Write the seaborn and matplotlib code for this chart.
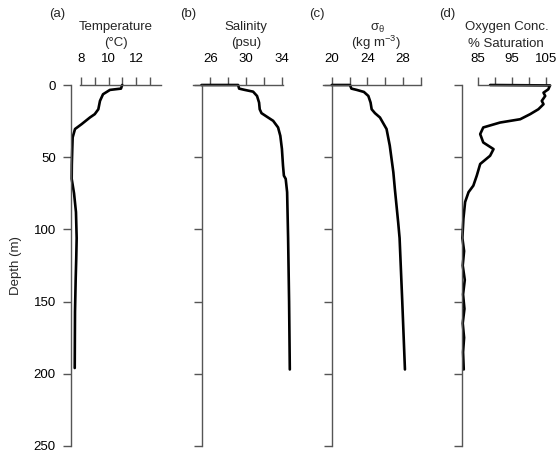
import numpy as np
import pandas as pd
import seaborn as sns
import matplotlib.pyplot as plt
from matplotlib.ticker import FixedLocator, FuncFormatter

# Profile data (depth in m)
temp_depth = [0, 2.5, 3.4, 6.4, 11, 16.8, 20.2, 22.5, 27.1, 30.5, 36.3, 45, 55, 65,
              75, 88, 106, 120, 134, 157, 175, 196]
temp_vals = [10.99, 10.9, 10.1, 9.6, 9.38, 9.26, 9.0, 8.65, 8.05, 7.57, 7.4, 7.37, 7.34, 7.33,
             7.5, 7.64, 7.69, 7.66, 7.62, 7.57, 7.56, 7.55]

sal_depth = [0, 0, 2.5, 3.4, 4.6, 7.6, 12.2, 16.8, 19.5, 21.8, 24.8, 29.4, 35.2, 44.3,
             55.8, 62.8, 65, 74.2, 106, 150, 197]
sal_vals = [25.0, 29.09, 29.2, 29.83, 30.76, 31.2, 31.43, 31.5, 31.7, 32.26, 33.0, 33.55, 33.8, 33.98,
            34.1, 34.2, 34.4, 34.56, 34.67, 34.78, 34.86]

sig_depth = [0, 0, 2.5, 3.4, 4.8, 7.6, 12.2, 16.8, 19.5, 22.5, 30.5, 42, 60.4, 72,
             95, 106, 150, 197]
sig_vals = [20.0, 22.04, 22.2, 22.8, 23.6, 24.1, 24.35, 24.47, 24.84, 25.4, 26.14, 26.5, 26.9, 27.07,
            27.44, 27.6, 27.9, 28.2]

oxy_depth = [0, 0.3, 3, 5.3, 7.6, 11, 13.3, 16.8, 20.2, 23.7, 26, 29.4, 34, 39.8, 44.4, 49,
             54.7, 62.8, 69.7, 74.2, 81, 92.6, 106, 115, 125, 135, 145, 155, 165, 175, 185, 197]
oxy_vals = [88.6, 106.1, 105.6, 104.2, 104.7, 103.7, 104.2, 102.7, 100.3, 97.4, 91.5, 86.6, 85.7, 86.6, 89.6, 88.6,
            85.7, 84.7, 83.7, 82.3, 81.3, 80.8, 80.5, 81.0, 80.6, 81.2, 80.7, 81.1, 80.6, 81.0, 80.7, 80.9]

depth_ticks = [0, 50, 100, 150, 200, 250]

sns.set_style("ticks")
plt.rcParams['font.family'] = ['Liberation Sans', 'DejaVu Sans']
plt.rcParams['mathtext.fontset'] = 'custom'
plt.rcParams['mathtext.rm'] = 'Liberation Sans'
plt.rcParams['mathtext.it'] = 'Liberation Sans'

W, H = 560, 457
fig = plt.figure(figsize=(W / 100, H / 100), dpi=100)

spine_col = '#555555'

# (left px, right px, xlim, left spine position, top spine bounds, ticks, labelled ticks, values, depths)
panels = [
    (71, 161, (7.28, 13.8), None, (7.95, 13.8), [8, 9, 10, 11, 12, 13], [8, 10, 12], temp_vals, temp_depth),
    (193, 283, (24.05, 34.1), 25.0, None, [26, 28, 30, 32, 34], [26, 30, 34], sal_vals, sal_depth),
    (323.3, 421, (19.05, 30.0), 20.0, None, [20, 22, 24, 26, 28, 30], [20, 24, 28], sig_vals, sig_depth),
    (461.7, 550, (80.3, 106.1), None, (85, 106.1), [85, 90, 95, 100, 105], [85, 95, 105], oxy_vals, oxy_depth),
]

top_px, bot_px = 85, 446
for i, (l, r, xlim, lpos, tbounds, ticks, labelled, vals, depth) in enumerate(panels):
    ax = fig.add_axes([l / W, 1 - bot_px / H, (r - l) / W, (bot_px - top_px) / H])
    df = pd.DataFrame({'val': vals, 'depth': depth})
    sns.lineplot(data=df, x='val', y='depth', sort=False, estimator=None, ax=ax,
                 color='black', lw=1.9, clip_on=False)
    ax.set_xlim(*xlim)
    ax.set_ylim(250, 0)
    ax.set_xlabel('')
    ax.set_ylabel('')

    ax.spines['right'].set_visible(False)
    ax.spines['bottom'].set_visible(False)
    for s in ['top', 'left']:
        ax.spines[s].set_color(spine_col)
        ax.spines[s].set_linewidth(1.0)
    if lpos is not None:
        ax.spines['left'].set_position(('data', lpos))
    if tbounds is not None:
        ax.spines['top'].set_bounds(*tbounds)

    ax.xaxis.tick_top()
    ax.xaxis.set_major_locator(FixedLocator(ticks))
    ax.xaxis.set_major_formatter(FuncFormatter(lambda v, p, lab=labelled: f'{v:g}' if v in lab else ''))
    ax.yaxis.set_major_locator(FixedLocator(depth_ticks))
    ax.tick_params(axis='x', direction='out', length=6, width=1, color=spine_col, pad=8.5,
                   labelsize=9.5, labelcolor='black')
    ax.tick_params(axis='y', direction='out', length=6, width=1, color=spine_col, pad=5,
                   labelsize=9.5, labelcolor='black')
    if i > 0:
        ax.set_yticklabels([])

# Panel letters and headers
def ftext(x, y, s, **kw):
    fig.text(x / W, 1 - y / H, s, ha='center', va='center', fontsize=9.5, **kw)

ftext(57, 14, '(a)')
ftext(116, 27, 'Temperature')
ftext(116, 43, '(\u00b0C)')
ftext(188, 14, '(b)')
ftext(246, 27, 'Salinity')
ftext(246, 43, '(psu)')
ftext(317, 14, '(c)')
ftext(377, 28, r'$\sigma_\theta$')
ftext(376, 43, r'(kg m$^{-3}$)')
ftext(447, 14, '(d)')
ftext(507, 27, 'Oxygen Conc.')
ftext(506, 44, '% Saturation')
ftext(16, 266, 'Depth (m)', rotation=90)

fig.savefig('out.png', dpi=100)
